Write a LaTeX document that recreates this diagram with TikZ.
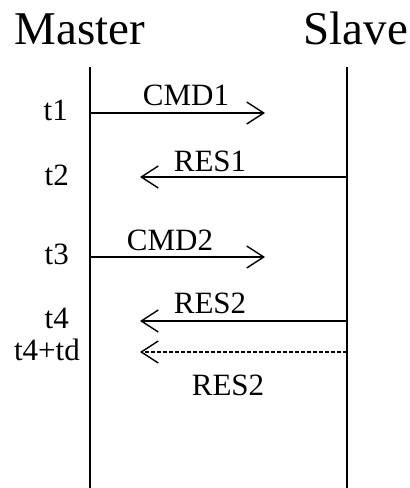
\documentclass[tikz,border=0pt]{standalone}
\usepackage{fontspec}
\setmainfont{Liberation Serif}
\usetikzlibrary{arrows.meta}

\tikzset{
    msg/.style={line width=1.4pt, -{Straight Barb[length=17pt,width=22pt,line width=1.4pt]}},
    lifeline/.style={line width=2pt},
    party/.style={font=\fontsize{47}{47}\selectfont, inner sep=0pt, anchor=base},
    msglabel/.style={font=\fontsize{31}{31}\selectfont, inner sep=0pt, anchor=base},
    timelabel/.style={font=\fontsize{31}{31}\selectfont, inner sep=0pt, anchor=base east},
}

\begin{document}
\begin{tikzpicture}[x=1pt, y=-1pt]
\useasboundingbox (0, 0) rectangle (410, 488);
\begin{scope}
    % Define nodes
    \node[party] (M) at (80, 44) {Master};
    \node[party] (S) at (356, 44) {Slave};

    \coordinate (M0) at (90, 67);
    \coordinate (M1) at (90, 488);
    \coordinate (S0) at (347, 67);
    \coordinate (S1) at (347, 488);

    % Lifelines
    \draw[lifeline] (M0) -- (M1);
    \draw[lifeline] (S0) -- (S1);

    % Messages
    \coordinate (c1a) at (90, 113);
    \coordinate (c1b) at (265, 113);
    \coordinate (r1a) at (347, 177);
    \coordinate (r1b) at (140, 177);
    \coordinate (c2a) at (90, 257);
    \coordinate (c2b) at (265, 257);
    \coordinate (r2a) at (347, 321);
    \coordinate (r2b) at (140, 321);
    \coordinate (r3a) at (347, 352);
    \coordinate (r3b) at (140, 352);

    \draw[msg] (c1a) -- (c1b);
    \draw[msg] (r1a) -- (r1b);
    \draw[msg] (c2a) -- (c2b);
    \draw[msg] (r2a) -- (r2b);
    \draw[msg, dashed, dash pattern=on 4pt off 2pt] (r3a) -- (r3b);

    \node[msglabel] (L1) at (186, 105) {CMD1};
    \node[msglabel] (L2) at (210, 171) {RES1};
    \node[msglabel] (L3) at (170, 250) {CMD2};
    \node[msglabel] (L4) at (210, 313) {RES2};
    \node[msglabel] (L5) at (228, 395) {RES2};

    % Time marks
    \node[timelabel] (T1) at (68, 120) {t1};
    \node[timelabel] (T2) at (69, 185) {t2};
    \node[timelabel] (T3) at (69, 264) {t3};
    \node[timelabel] (T4) at (69, 328) {t4};
    \node[timelabel] (T5) at (80, 360) {t4+td};
\end{scope}
\end{tikzpicture}
\end{document}
